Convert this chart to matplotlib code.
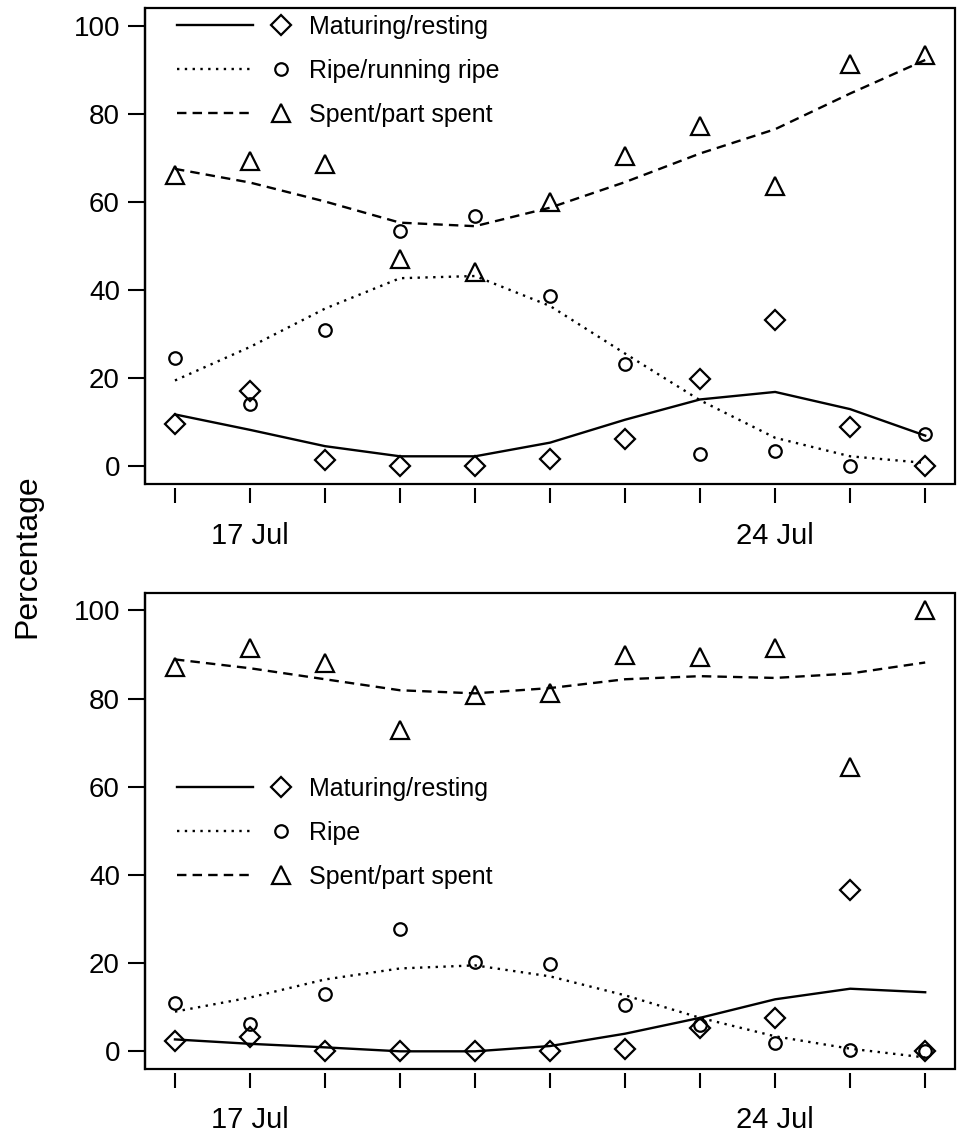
import matplotlib
matplotlib.use("Agg")
import matplotlib.pyplot as plt
from matplotlib.legend_handler import HandlerBase
from matplotlib.lines import Line2D

plt.rcParams["font.family"] = ["Liberation Sans", "DejaVu Sans"]

days = [16, 17, 18, 19, 20, 21, 22, 23, 24, 25, 26]
day_labels = {17: "17 Jul", 24: "24 Jul"}

# top panel
mat_obs_a = [9.7, 17.1, 1.4, 0, 0, 1.7, 6.3, 19.9, 33.2, 8.9, 0]
mat_fit_a = [11.8, 8.3, 4.6, 2.3, 2.3, 5.4, 10.6, 15.2, 16.9, 13.0, 7.0]
ripe_obs_a = [24.7, 14.1, 30.9, 53.3, 56.7, 38.7, 23.3, 2.9, 3.4, 0, 7.4]
ripe_fit_a = [19.5, 27.1, 35.8, 42.7, 43.2, 36.4, 25.6, 15.0, 6.5, 2.3, 0.8]
spent_obs_a = [66.1, 69.3, 68.6, 47.0, 44.2, 60.0, 70.5, 77.2, 63.7, 91.4, 93.4]
spent_fit_a = [67.5, 64.4, 60.1, 55.3, 54.5, 58.7, 64.5, 71.0, 76.5, 84.6, 92.2]

# bottom panel
mat_obs_b = [2.3, 3.2, 0, 0, 0, 0, 0.5, 5.4, 7.6, 36.5, 0]
mat_fit_b = [2.7, 1.7, 0.9, 0, 0, 1.2, 4.0, 7.6, 11.8, 14.2, 13.4]
ripe_obs_b = [11.0, 6.3, 12.9, 27.8, 20.2, 19.8, 10.4, 6.0, 2.0, 0.2, 0]
ripe_fit_b = [9.0, 12.2, 16.3, 18.8, 19.5, 17.0, 12.7, 7.6, 3.4, 0.6, -1.4]
spent_obs_b = [87.2, 91.5, 88.1, 73.0, 80.8, 81.2, 89.9, 89.4, 91.5, 64.4, 100]
spent_fit_b = [88.9, 86.9, 84.4, 81.9, 81.2, 82.4, 84.4, 85.1, 84.7, 85.7, 88.2]

labels_a = ["Maturing/resting", "Ripe/running ripe", "Spent/part spent"]
labels_b = ["Maturing/resting", "Ripe", "Spent/part spent"]

LW = 1.7
SOLID = dict(linestyle="-")
DOTTED = dict(dashes=(1.0, 2.3))
DASHED = dict(dashes=(4.0, 2.6))


class LineThenMarker(HandlerBase):
    # legend entry: line sample first, then the marker to its right
    def create_artists(self, legend, orig_handle, xdescent, ydescent,
                       width, height, fontsize, trans):
        line, mark = orig_handle
        y = height / 2 - ydescent
        seg = Line2D([-xdescent, -xdescent + 0.64 * width], [y, y])
        seg.update_from(line)
        seg.set_marker("")
        dot = Line2D([-xdescent + 0.885 * width], [y])
        dot.update_from(mark)
        dot.set_linestyle("None")
        seg.set_transform(trans)
        dot.set_transform(trans)
        return [seg, dot]


def draw_panel(ax, series, labels, legend_top):
    handles = []
    for (obs, fit, style, marker, ms), lab in zip(series, labels):
        ln, = ax.plot(days, fit, color="black", lw=LW, **style)
        mk, = ax.plot(days, obs, linestyle="none", marker=marker, ms=ms,
                      mfc="none", mec="black", mew=1.6)
        handles.append((ln, mk))

    ax.set_xlim(15.6, 26.4)
    ax.set_ylim(-4, 104)
    ax.set_yticks([0, 20, 40, 60, 80, 100])
    ax.set_xticks(days)
    ax.set_xticklabels([day_labels.get(d, "") for d in days])

    for s in ["top", "right", "bottom"]:
        ax.spines[s].set_visible(False)
    ax.spines["bottom"].set_position(("outward", 3))
    ax.spines["left"].set_linewidth(1.6)
    ax.patch.set_edgecolor("black")
    ax.patch.set_linewidth(1.6)

    ax.tick_params(axis="y", direction="out", length=12, width=1.5,
                   pad=6, labelsize=20)
    ax.tick_params(axis="x", direction="out", length=11, width=1.5,
                   pad=13, labelsize=21)

    ax.legend(handles, labels, handler_map={tuple: LineThenMarker()},
              loc="upper left", bbox_to_anchor=(0.04, legend_top),
              frameon=False, fontsize=18, handlelength=4.7,
              handletextpad=0.55, labelspacing=0.8, borderpad=0,
              borderaxespad=0)


def main():
    fig = plt.figure(figsize=(9.6, 11.39), dpi=100)
    ax1 = fig.add_axes([0.151, 0.575, 0.844, 0.418])
    ax2 = fig.add_axes([0.151, 0.0615, 0.844, 0.418])

    series_a = [
        (mat_obs_a, mat_fit_a, SOLID, "D", 10),
        (ripe_obs_a, ripe_fit_a, DOTTED, "o", 9),
        (spent_obs_a, spent_fit_a, DASHED, "^", 13),
    ]
    series_b = [
        (mat_obs_b, mat_fit_b, SOLID, "D", 10),
        (ripe_obs_b, ripe_fit_b, DOTTED, "o", 9),
        (spent_obs_b, spent_fit_b, DASHED, "^", 13),
    ]
    draw_panel(ax1, series_a, labels_a, 0.986)
    draw_panel(ax2, series_b, labels_b, 0.614)

    fig.text(0.028, 1 - 556 / 1139, "Percentage", rotation=90,
             ha="center", va="center", fontsize=23)

    fig.savefig("out.png", dpi=100)


if __name__ == "__main__":
    main()
